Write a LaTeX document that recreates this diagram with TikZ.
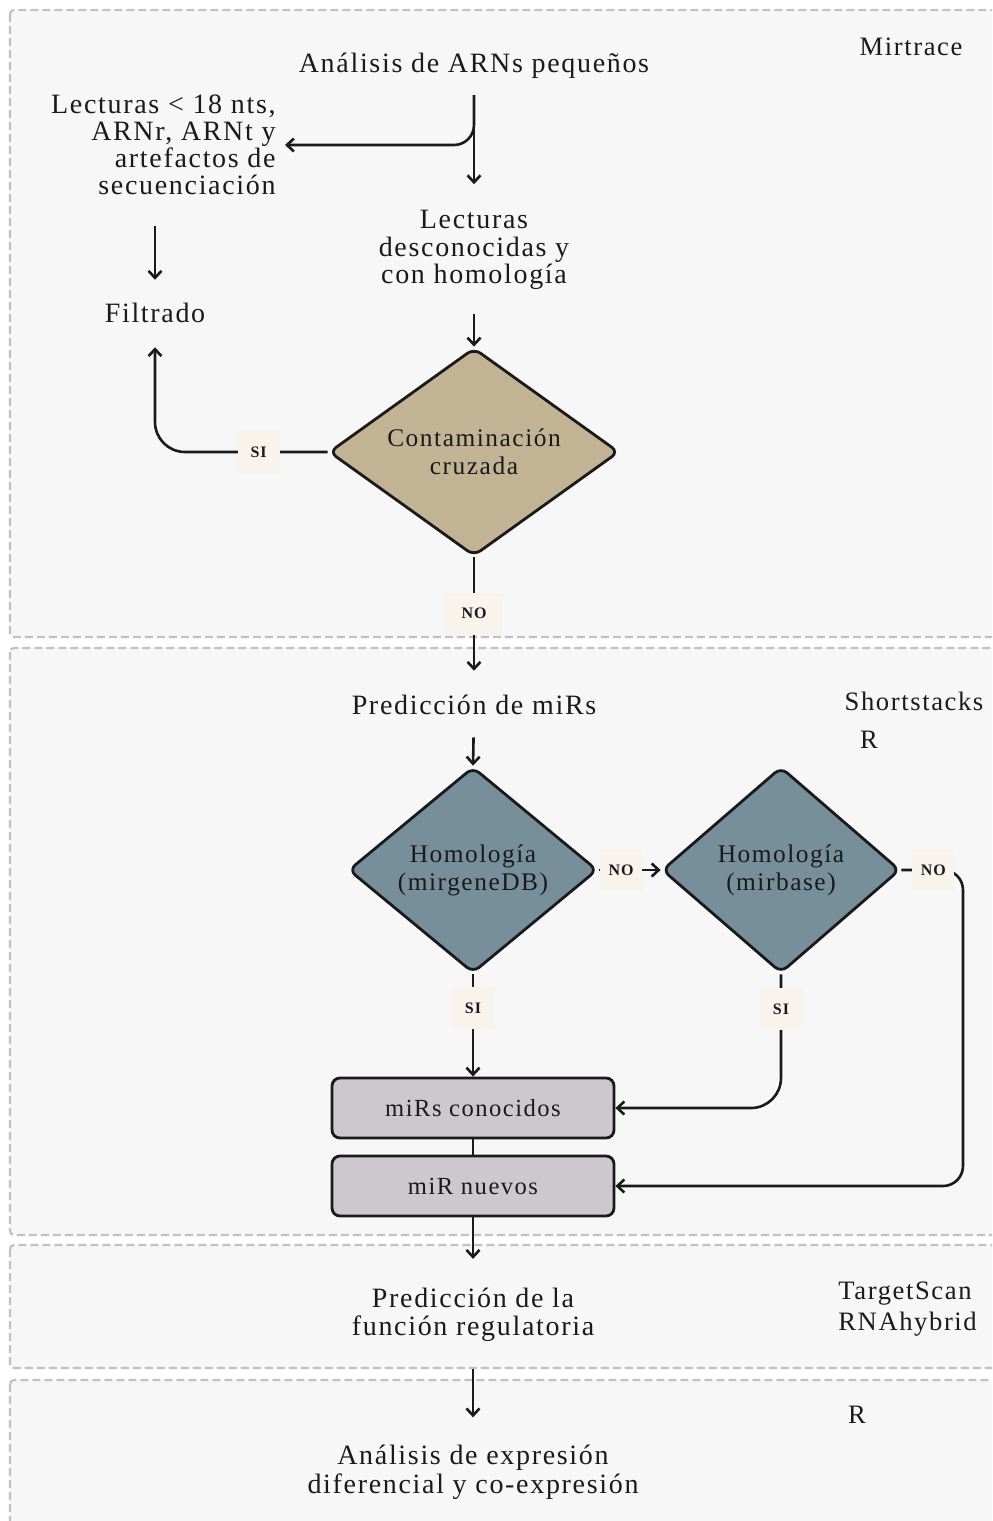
\documentclass[tikz,border=0pt]{standalone}
\usepackage{fontspec}
\setmainfont{Liberation Serif}[LetterSpace=6]
\usetikzlibrary{shapes.geometric,arrows.meta}
\definecolor{panelfill}{HTML}{F7F7F7}
\definecolor{paneldraw}{HTML}{C0C0CA}
\definecolor{tanfill}{HTML}{C2B394}
\definecolor{slatefill}{HTML}{778F9B}
\definecolor{lavfill}{HTML}{CDC8CE}
\definecolor{creamfill}{HTML}{F8F4EC}
\definecolor{ink}{HTML}{1A1A1A}
\begin{document}
\begin{tikzpicture}[x=0.5pt,y=-0.5pt,
  panel/.style={draw=paneldraw, fill=panelfill, line width=1.1pt, dash pattern=on 4pt off 2pt, rounded corners=2pt},
  txt/.style={text=ink, font=\fontsize{14}{13.6}\selectfont, align=center, inner sep=0pt},
  side/.style={text=ink, font=\fontsize{13.3}{15.5}\selectfont, align=left, inner sep=0pt},
  dec/.style={shape=diamond, draw=ink, line width=1.4pt, rounded corners=4pt, inner sep=0pt, aspect=1.2, text=ink, font=\fontsize{12.7}{14}\selectfont, align=center},
  rbox/.style={draw=ink, fill=lavfill, line width=1.4pt, rounded corners=4pt, minimum width=141pt, minimum height=30pt, inner sep=0pt, text=ink, font=\fontsize{12.3}{13}\selectfont},
  lbl/.style={fill=creamfill, sharp corners, font=\fontsize{8}{8}\selectfont\bfseries, text=ink, minimum height=21pt, minimum width=21pt, inner sep=2pt},
  arr/.style={draw=ink, line width=1.3pt, -{Straight Barb[length=3.5pt,width=6.5pt]}},
  con/.style={draw=ink, line width=1.3pt},
]
\useasboundingbox (0,0) rectangle (992,1521);
\fill[white] (0,0) rectangle (992,1521);
\begin{scope}
\clip (0,0) rectangle (992,1521);
\path[panel] (10,10) rectangle (1010,637);
\path[panel] (10,648) rectangle (1010,1235);
\path[panel] (10,1245) rectangle (1010,1368);
\path[panel] (10,1380) rectangle (1010,1540);
\end{scope}

% panel labels
\node[side] (mt) at (911,47) {Mirtrace};
\node[side] (ss) at (914,701) {Shortstacks};
\node[side] (r1) at (869,740) {R};
\node[side, anchor=west] (ts) at (838,1309) {TargetScan\\RNAhybrid};
\node[side] (r2) at (857,1415) {R};

% nodes
\node[txt] (ana) at (474,66) {Análisis de ARNs pequeños};
\node[txt, align=right, anchor=east] (l18) at (276,145) {Lecturas < 18 nts,\\ARNr, ARNt y\\artefactos de\\secuenciación};
\node[txt] (desc) at (474,250) {Lecturas\\desconocidas y\\con homología};
\node[txt] (filt) at (155,313) {Filtrado};
\node[dec, fill=tanfill, minimum width=145pt, minimum height=104pt] (cont) at (474,452) {Contaminación\\cruzada};
\node[txt] (pred) at (474,705) {Predicción de miRs};
\node[dec, fill=slatefill, minimum width=124.5pt, minimum height=103pt] (h1) at (473,870) {Homología\\(mirgeneDB)};
\node[dec, fill=slatefill, minimum width=119pt, minimum height=103pt] (h2) at (781,870) {Homología\\(mirbase)};
\node[rbox] (kn) at (473,1108) {miRs conocidos};
\node[rbox] (nw) at (473,1186) {miR nuevos};
\node[txt, font=\fontsize{14}{14}\selectfont] (fun) at (473,1315) {Predicción de la\\función regulatoria};
\node[txt, font=\fontsize{14}{14.5}\selectfont] (expr) at (473,1472) {Análisis de expresión\\diferencial y co-expresión};
\coordinate (rr) at (963,870);

% connectors
\draw[arr, shorten <=8pt, shorten >=13pt] (ana.south) -- (desc.north);
\draw[arr, rounded corners=10pt, shorten <=8pt, shorten >=4.5pt] (ana.south) |- (l18.east);
\draw[arr, shorten <=15pt, shorten >=11.5pt] (l18.south -| filt.north) -- (filt.north);
\draw[arr, shorten <=12pt] (desc.south) -- (cont.north);
\draw[arr, rounded corners=15pt, shorten >=12pt] (cont.west) -| node[lbl, pos=0.2] {SI} (filt.south);
\draw[arr, shorten >=12pt] (cont.south) -- node[lbl, minimum width=29pt, pos=0.41] {NO} (pred.north);
\draw[arr, shorten <=11pt] (pred.south) -- (h1.north);
\draw[arr] (h1.east) -- node[lbl, pos=0.36] {NO} (h2.west);
\draw[arr, rounded corners=10pt] (h2.east) -- node[lbl, pos=0.52] {NO} (rr) |- (nw.east);
\draw[arr] (h1.south) -- node[lbl, pos=0.33] {SI} (kn.north);
\draw[arr, rounded corners=15pt] (h2.south) |- node[lbl, pos=0.13] {SI} (kn.east);
\draw[con] (kn.south) -- (nw.north);
\draw[arr, shorten >=14.5pt] (nw.south) -- (fun.north);
\draw[arr, shorten <=13.5pt, shorten >=13.5pt] (fun.south) -- (expr.north);
\end{tikzpicture}
\end{document}
